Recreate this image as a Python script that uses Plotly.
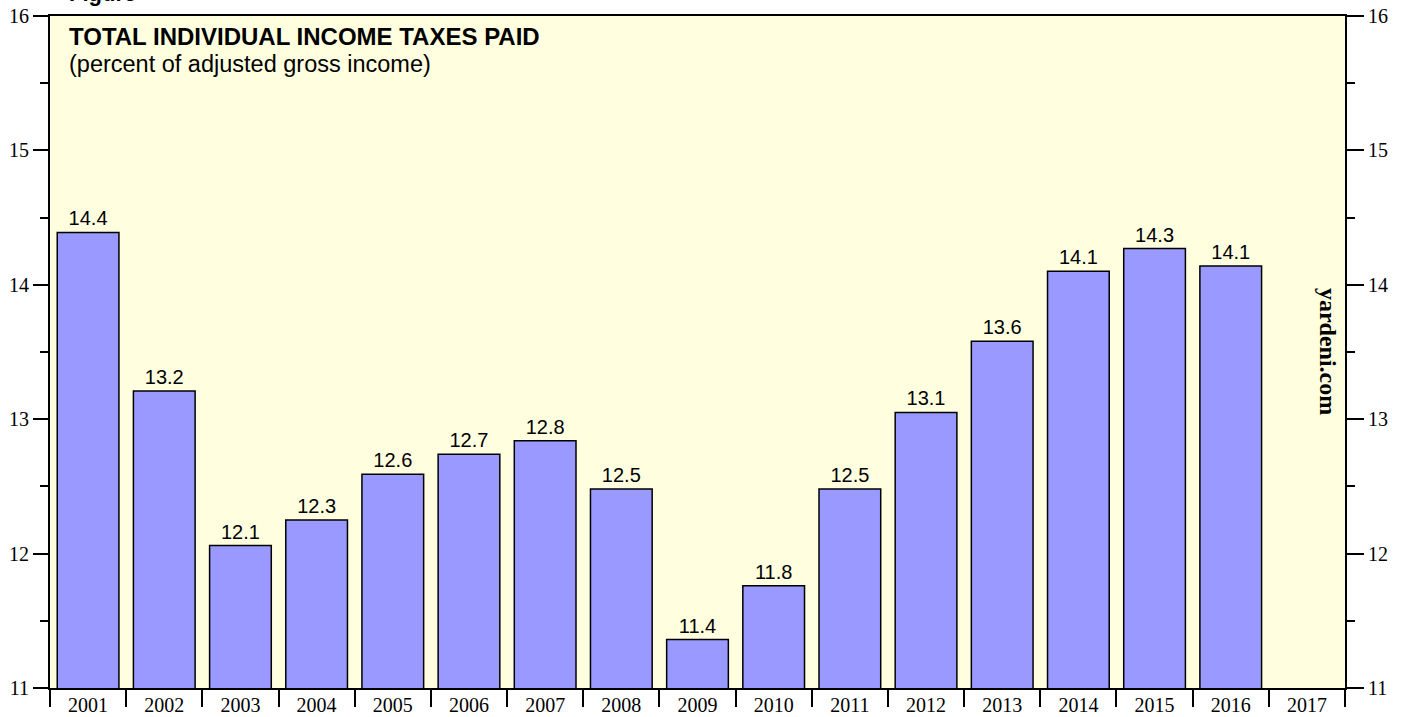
import plotly.graph_objects as go

years = [str(y) for y in range(2001, 2018)]
values = [14.39, 13.21, 12.06, 12.25, 12.59, 12.74, 12.84, 12.48, 11.36, 11.76,
          12.48, 13.05, 13.58, 14.10, 14.27, 14.14, None]
y_ticks = [11, 12, 13, 14, 15, 16]

TIMES = "Liberation Serif, Times New Roman, serif"
ARIAL = "Liberation Sans, Arial, sans-serif"

fig = go.Figure()
fig.add_trace(go.Bar(
    x=years, y=values,
    marker=dict(color="#9999FF", line=dict(color="black", width=1.5)),
    texttemplate="%{y:.1f}", textposition="outside",
    textfont=dict(family=ARIAL, size=20, color="black"),
    cliponaxis=False, showlegend=False,
))
# invisible trace to drive right-hand axis
fig.add_trace(go.Scatter(x=[years[0]], y=[None], yaxis="y2", showlegend=False,
                         hoverinfo="skip"))

fig.update_layout(
    template="none",
    width=1405, height=717,
    margin=dict(l=50, r=60, t=16, b=29, autoexpand=False),
    paper_bgcolor="white", plot_bgcolor="#FFFFE0",
    bargap=0.19,
    xaxis=dict(type="category", categoryorder="array", categoryarray=years,
               range=[-0.5, 16.5], automargin=False,
               tickson="boundaries", ticks="outside", ticklen=17, tickwidth=2,
               tickcolor="black", showline=True, linewidth=2, linecolor="black",
               mirror=True, showgrid=False, zeroline=False,
               tickfont=dict(family=TIMES, size=20, color="black"),
               ticklabelstandoff=-2),
    yaxis=dict(range=[11, 16], tickvals=y_ticks, ticks="outside", ticklen=15,
               automargin=False,
               tickwidth=1.5, tickcolor="black", showline=True, linewidth=2,
               linecolor="black", showgrid=False, zeroline=False,
               minor=dict(dtick=0.5, ticks="outside", ticklen=8, tickwidth=1.5,
                          tickcolor="black", showgrid=False),
               tickfont=dict(family=TIMES, size=20, color="black")),
    yaxis2=dict(range=[11, 16], tickvals=y_ticks, overlaying="y", side="right",
                automargin=False,
                ticks="outside", ticklen=17, tickwidth=1.5, tickcolor="black",
                showline=True, linewidth=2, linecolor="black", showgrid=False,
                zeroline=False,
                minor=dict(dtick=0.5, ticks="outside", ticklen=8, tickwidth=1.5,
                           tickcolor="black", showgrid=False),
                tickfont=dict(family=TIMES, size=20, color="black")),
    annotations=[
        dict(text="<b>TOTAL INDIVIDUAL INCOME TAXES PAID</b>", xref="paper", yref="paper",
             x=0.0131, y=0.970, xanchor="left", yanchor="middle", showarrow=False,
             font=dict(family=ARIAL, size=24, color="black")),
        dict(text="(percent of adjusted gross income)", xref="paper", yref="paper",
             x=0.0131, y=0.929, xanchor="left", yanchor="middle", showarrow=False,
             font=dict(family=ARIAL, size=23.5, color="black")),
        dict(text="<b>yardeni.com</b>", xref="paper", yref="paper",
             x=0.9869, y=0.5015, xanchor="center", yanchor="middle", showarrow=False,
             textangle=90, font=dict(family=TIMES, size=24, color="black")),
        dict(text="<b>Figure</b>", xref="paper", yref="paper",
             x=0.0131, y=1.0115, xanchor="left", yanchor="bottom", showarrow=False,
             font=dict(family=ARIAL, size=22, color="black")),
    ],
)

fig.write_html("out.html", config={"displayModeBar": False},
               post_script="document.body.style.margin='0';document.body.style.padding='0';")
